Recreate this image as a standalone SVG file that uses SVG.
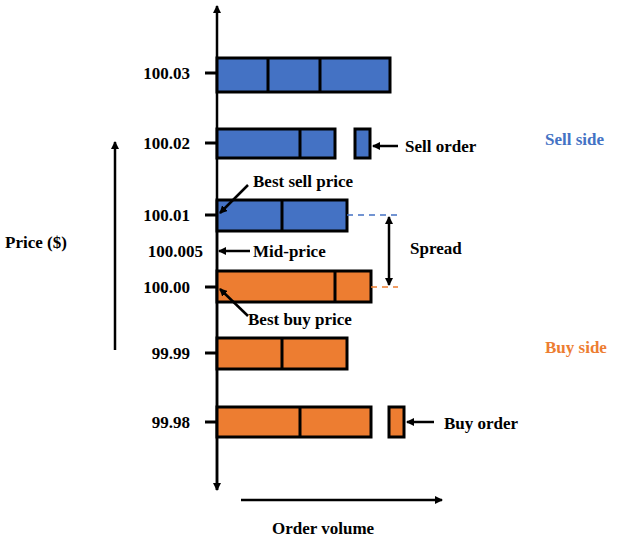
<svg xmlns="http://www.w3.org/2000/svg" width="636" height="544" viewBox="0 0 636 544">
<defs><marker id="ah" markerWidth="8" markerHeight="8" refX="7" refY="4" orient="auto" markerUnits="userSpaceOnUse"><path d="M0,0 L8,4 L0,8 Z" fill="#000"/></marker></defs>
<style>
text{font-family:"Liberation Serif",serif;font-weight:bold;font-size:17px;fill:#000}
.s{fill:#4472C4;stroke:#000;stroke-width:3}
.b{fill:#ED7D31;stroke:#000;stroke-width:3}
.l{stroke:#000;stroke-width:3;fill:none}
.a{stroke:#000;stroke-width:2.5;fill:none;marker-end:url(#ah)}
</style>
<rect width="636" height="544" fill="#fff"/>
<g id="axes">
<line class="a" x1="217" y1="490" x2="217" y2="6"/>
<line class="a" x1="217" y1="200" x2="217" y2="490"/>
<line class="a" x1="241" y1="500" x2="442" y2="500"/>
<line class="a" x1="115" y1="350" x2="115" y2="142"/>
<g class="l"><line x1="205" y1="73" x2="217" y2="73"/><line x1="205" y1="143" x2="217" y2="143"/><line x1="205" y1="215" x2="217" y2="215"/><line x1="205" y1="287" x2="217" y2="287"/><line x1="205" y1="353" x2="217" y2="353"/><line x1="205" y1="422" x2="217" y2="422"/></g>
</g>
<g id="bars">
<rect class="s" x="217" y="58" width="173" height="34"/><line class="l" x1="268" y1="58" x2="268" y2="92"/><line class="l" x1="320" y1="58" x2="320" y2="92"/>
<rect class="s" x="217" y="129" width="118" height="29"/><line class="l" x1="300" y1="129" x2="300" y2="158"/>
<rect class="s" x="355" y="129" width="15" height="29"/>
<rect class="s" x="217" y="200" width="130" height="31"/><line class="l" x1="282" y1="200" x2="282" y2="231"/>
<rect class="b" x="217" y="271" width="154" height="31"/><line class="l" x1="335" y1="271" x2="335" y2="302"/>
<rect class="b" x="217" y="338" width="130" height="31"/><line class="l" x1="282" y1="338" x2="282" y2="369"/>
<rect class="b" x="217" y="407" width="154" height="30"/><line class="l" x1="300" y1="407" x2="300" y2="437"/>
<rect class="b" x="389" y="407" width="15" height="30"/>
</g>
<g id="connectors">
<line x1="347" y1="215" x2="400" y2="215" stroke="#4472C4" stroke-width="1.5" stroke-dasharray="6,5"/>
<line x1="371" y1="287" x2="398" y2="287" stroke="#ED7D31" stroke-width="1.5" stroke-dasharray="6,5"/>
<line class="a" x1="389" y1="250" x2="389" y2="217"/>
<line class="a" x1="389" y1="250" x2="389" y2="285"/>
<line class="a" x1="398" y1="146" x2="373" y2="146"/>
<line class="a" x1="434" y1="422" x2="407" y2="422"/>
<line class="a" x1="250" y1="251" x2="219" y2="251"/>
<line class="a" x1="248" y1="185" x2="220" y2="213"/>
<line class="a" x1="248" y1="316" x2="220" y2="289"/>
</g>
<g id="labels">
<text x="190" y="79" text-anchor="end">100.03</text>
<text x="190" y="149" text-anchor="end">100.02</text>
<text x="190" y="221" text-anchor="end">100.01</text>
<text x="203" y="257" text-anchor="end">100.005</text>
<text x="190" y="293" text-anchor="end">100.00</text>
<text x="190" y="359" text-anchor="end">99.99</text>
<text x="190" y="428" text-anchor="end">99.98</text>
<text x="253" y="187">Best sell price</text>
<text x="253" y="257">Mid-price</text>
<text x="248" y="325">Best buy price</text>
<text x="405" y="152">Sell order</text>
<text x="444" y="429">Buy order</text>
<text x="410" y="254">Spread</text>
<text x="5" y="248">Price ($)</text>
<text x="272" y="534">Order volume</text>
<text x="545" y="145" fill="#4472C4" style="fill:#4472C4">Sell side</text>
<text x="545" y="353" style="fill:#ED7D31">Buy side</text>
</g>
</svg>
